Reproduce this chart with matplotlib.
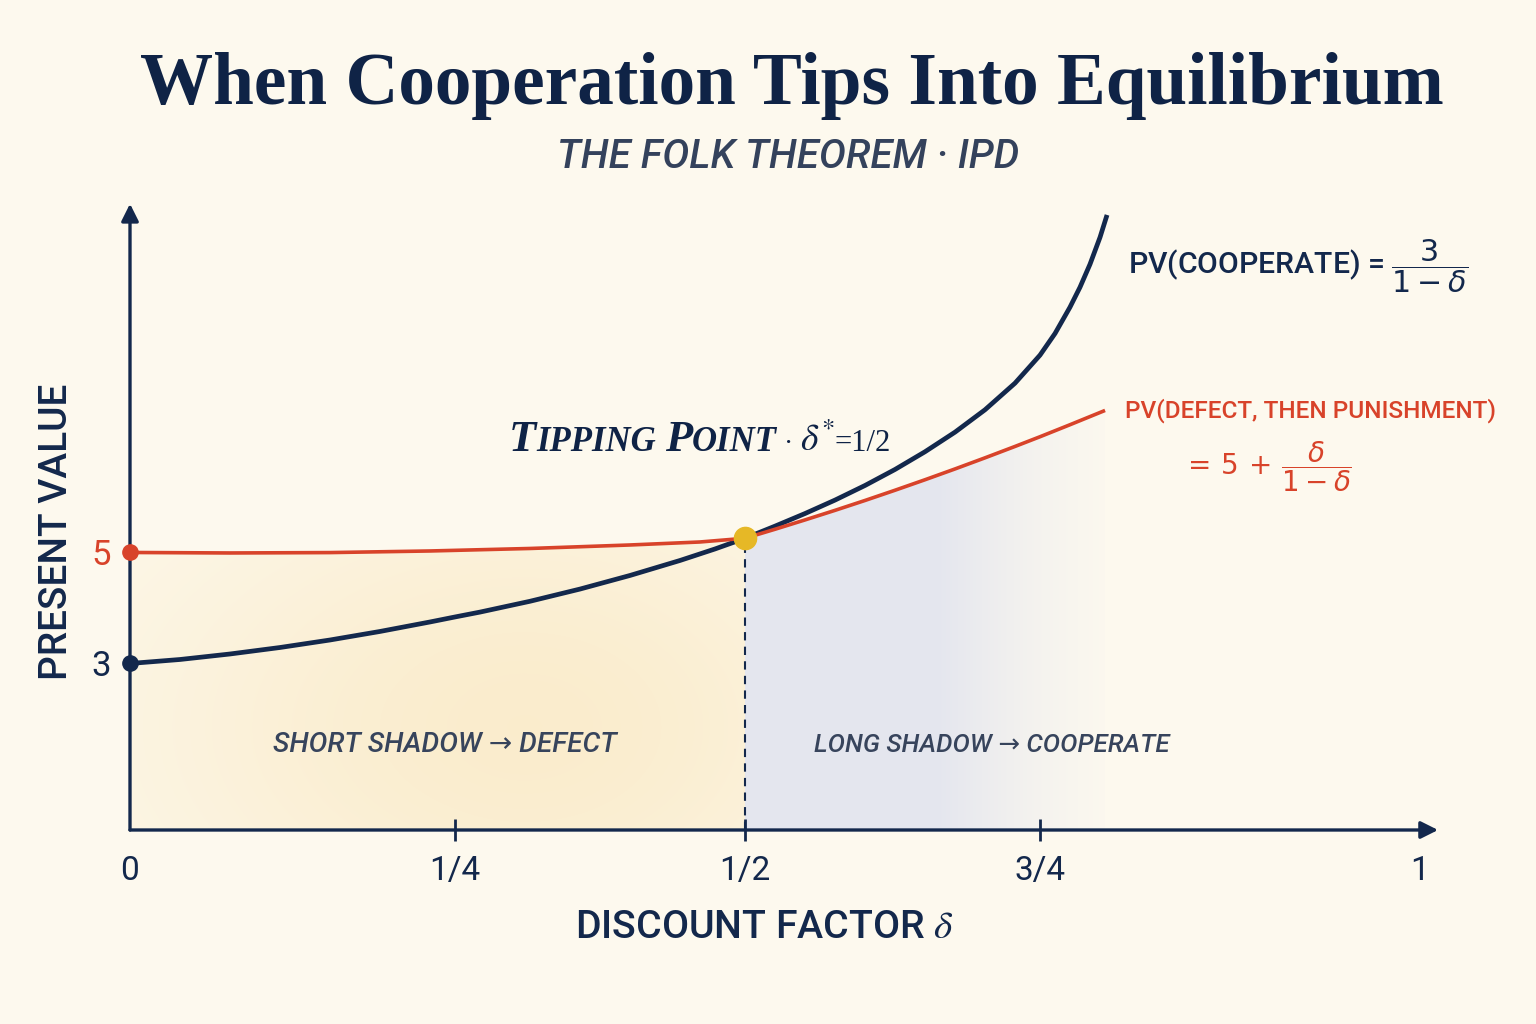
import numpy as np
import matplotlib
matplotlib.use("Agg")
import matplotlib.pyplot as plt
from matplotlib.offsetbox import TextArea, HPacker, AnnotationBbox

plt.rcParams['font.family'] = ['Roboto', 'DejaVu Sans']
plt.rcParams['mathtext.fontset'] = 'dejavusans'

# values (delta, present value)
tick_vals = [0, 0.25, 0.5, 0.75, 1]
tick_labels = ['0', '1/4', '1/2', '3/4', '1']

coop_delta = [0, 0.0385, 0.0769, 0.1154, 0.1538, 0.1923, 0.2308, 0.25, 0.2716,
              0.3147, 0.3578, 0.4009, 0.4440, 0.4741, 0.5, 0.5254, 0.5508,
              0.5763, 0.6017, 0.6271, 0.6525, 0.6780, 0.7034, 0.7288, 0.75,
              0.7599, 0.7697, 0.7763, 0.7829, 0.7895, 0.7941]
coop_value = [3.0, 3.072, 3.171, 3.288, 3.423, 3.577, 3.748, 3.838, 3.926,
              4.121, 4.341, 4.586, 4.856, 5.063, 5.256, 5.474, 5.701,
              5.944, 6.207, 6.495, 6.814, 7.168, 7.571, 8.050, 8.555,
              8.946, 9.418, 9.778, 10.193, 10.679, 11.081]

defect_delta = [0, 0.0769, 0.1538, 0.2308, 0.3147, 0.4009, 0.4612, 0.5,
                0.5254, 0.5508, 0.5763, 0.6017, 0.6271, 0.6525, 0.6780,
                0.7034, 0.7288, 0.75, 0.7697, 0.7928]
defect_value = [5.0, 4.991, 4.998, 5.027, 5.072, 5.135, 5.189, 5.256,
                5.418, 5.586, 5.759, 5.937, 6.121, 6.310, 6.505,
                6.705, 6.910, 7.085, 7.301, 7.559]

tip_delta = 0.5
tip_value = 5.256

NAVY = '#13284C'
RED = '#D8432A'
GOLD = '#E6B826'
SLATE = '#37445C'
BG = '#FDF9EE'

# the drawn axis is stretched unevenly between the quarter ticks
BREAK_D = [-1, 0, 0.25, 0.5, 0.75, 1, 2]
BREAK_P = [-1300, 0, 325, 615, 910, 1290, 2810]


def fwd(x):
    return np.interp(x, BREAK_D, BREAK_P)


def inv(p):
    return np.interp(p, BREAK_P, BREAK_D)


fig = plt.figure(figsize=(15.36, 10.24), dpi=100, facecolor=BG)
ax = fig.add_axes([130 / 1536, 194 / 1024, 1290 / 1536, 620 / 1024])
ax.set_facecolor('none')
ax.set_xscale('function', functions=(fwd, inv))


def gradient(extent, rgb, alpha_fn, clip):
    u = np.linspace(0, 1, 240)
    v = np.linspace(0, 1, 160)
    U, V = np.meshgrid(u, v)
    img = np.zeros((len(v), len(u), 4))
    img[..., :3] = rgb
    img[..., 3] = np.clip(alpha_fn(U, V), 0, 1)
    im = ax.imshow(img, extent=extent, origin='lower', aspect='auto',
                   interpolation='bilinear', zorder=1)
    im.set_clip_path(clip.get_paths()[0], ax.transData)


left = [i for i, d in enumerate(defect_delta) if d <= tip_delta]
right = [i for i, d in enumerate(defect_delta) if d >= tip_delta]
d_arr = np.array(defect_delta)
v_arr = np.array(defect_value)

poly_l = ax.fill_between(d_arr[left], 0, v_arr[left], color='none', lw=0)
poly_r = ax.fill_between(d_arr[right], 0, v_arr[right], color='none', lw=0)

gradient([0, tip_delta, 0, max(v_arr[left])], (0.984, 0.925, 0.79),
         lambda U, V: 0.9 * np.exp(-((U - 0.62) / 0.65) ** 2 - ((V - 0.35) / 0.9) ** 2),
         poly_l)
gradient([tip_delta, defect_delta[-1], 0, defect_value[-1]], (0.895, 0.905, 0.935),
         lambda U, V: np.clip((1.05 - U) / 0.5, 0, 1) ** 1.2,
         poly_r)

ax.plot(coop_delta, coop_value, color=NAVY, lw=3.4, zorder=3,
        solid_capstyle='butt', solid_joinstyle='round')
ax.plot(defect_delta, defect_value, color=RED, lw=2.6, zorder=3,
        solid_capstyle='butt', solid_joinstyle='round')

ax.vlines(tip_delta, 0, tip_value, color=NAVY, lw=1.5, linestyles=(0, (4, 3)), zorder=2)
ax.plot(tip_delta, tip_value, 'o', color=GOLD, ms=16, zorder=5)
ax.plot(0, defect_value[0], 'o', color=RED, ms=11, zorder=5, clip_on=False)
ax.plot(0, coop_value[0], 'o', color=NAVY, ms=11, zorder=5, clip_on=False)

ax.set_xlim(0, 1)
ax.set_ylim(0, 11.17)
for s in ax.spines.values():
    s.set_visible(False)

ax.annotate('', xy=(0, 1.01), xytext=(0, 0), xycoords='axes fraction',
            arrowprops=dict(arrowstyle='-|>', lw=2.4, color=NAVY, mutation_scale=26,
                            shrinkA=0, shrinkB=0))
ax.annotate('', xy=(1.014, 0), xytext=(0, 0), xycoords='axes fraction',
            arrowprops=dict(arrowstyle='-|>', lw=2.4, color=NAVY, mutation_scale=26,
                            shrinkA=0, shrinkB=0))

ax.set_xticks(tick_vals, tick_labels)
ax.tick_params(axis='x', direction='inout', length=16, width=2, color=NAVY,
               labelsize=24, labelcolor=NAVY, pad=10)
xt = ax.xaxis.get_major_ticks()
xt[0].tick1line.set_visible(False)
xt[-1].tick1line.set_visible(False)

ax.set_yticks([coop_value[0], defect_value[0]], ['3', '5'])
ax.tick_params(axis='y', length=0, labelsize=25, pad=14)
ylab = ax.get_yticklabels()
ylab[0].set_color(NAVY)
ylab[1].set_color(RED)

renderer = fig.canvas.get_renderer()


def fit(t, target, vertical=False):
    bb = t.get_window_extent(renderer)
    size = bb.height if vertical else bb.width
    t.set_fontsize(t.get_fontsize() * target / size)
    return t


def px(x, y):
    return x / 1536, 1 - y / 1024


title = fig.text(*px(792, 86), 'When Cooperation Tips Into Equilibrium', ha='center', va='center',
                 family='Liberation Serif', weight='bold', color='#0F2346', fontsize=50)
fit(title, 1305)
sub = fig.text(*px(788, 157), 'THE FOLK THEOREM · IPD', ha='center', va='center',
               style='italic', weight='medium', color='#34425C', fontsize=22)
fit(sub, 461)

yl = fig.text(*px(57, 532), 'PRESENT VALUE', rotation=90, ha='center', va='center',
              weight='medium', color=NAVY, fontsize=20)
fit(yl, 295, vertical=True)
xl = fig.text(*px(764, 927), r'DISCOUNT FACTOR $\delta$', ha='center', va='center',
              weight='medium', color=NAVY, fontsize=24, math_fontfamily='stix')
fit(xl, 380)

short = fig.text(*px(445, 745), 'SHORT SHADOW → DEFECT', ha='center', va='center',
                 style='italic', weight='medium', color=SLATE, fontsize=18)
fit(short, 345)
long_ = fig.text(*px(992, 745), 'LONG SHADOW → COOPERATE', ha='center', va='center',
                 style='italic', weight='medium', color=SLATE, fontsize=18)
fit(long_, 355)

coop_lab = fig.text(*px(1128, 266), r'PV(COOPERATE) = $\dfrac{3}{1-\delta}$', ha='left', va='center',
                    weight='medium', color=NAVY, fontsize=22)
fit(coop_lab, 340)
def_lab = fig.text(*px(1125, 411), 'PV(DEFECT, THEN PUNISHMENT)', ha='left', va='center',
                   weight='medium', color=RED, fontsize=22)
fit(def_lab, 372)
def_eq = fig.text(*px(1182, 467), r'$=\,5\,+\,\dfrac{\delta}{1-\delta}$', ha='left', va='center',
                  color=RED, fontsize=20)

serif = dict(family='Liberation Serif', weight='bold', style='italic', color='#0F2346')
plain = dict(family='Liberation Serif', color='#0F2346', math_fontfamily='stix')
parts = [
    TextArea('T', textprops=dict(serif, fontsize=32)),
    TextArea('IPPING ', textprops=dict(serif, fontsize=25)),
    TextArea('P', textprops=dict(serif, fontsize=32)),
    TextArea('OINT', textprops=dict(serif, fontsize=25)),
    TextArea(' · ', textprops=dict(plain, fontsize=20)),
    TextArea(r'$\delta^{*}$', textprops=dict(plain, fontsize=27)),
    TextArea('=1/2', textprops=dict(plain, fontsize=22)),
]
box = HPacker(children=parts, align='baseline', pad=0, sep=0)
ab = AnnotationBbox(box, px(700, 440), xycoords='figure fraction', frameon=False,
                    box_alignment=(0.5, 0.5))
fig.add_artist(ab)

fig.savefig('out.png', dpi=100, facecolor=BG)
